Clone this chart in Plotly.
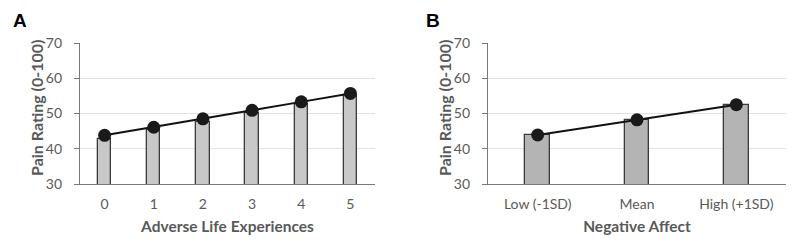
import plotly.graph_objects as go
from plotly.subplots import make_subplots

# Panel A data
ale_categories = ["0", "1", "2", "3", "4", "5"]
ale_bars = [42.7, 45.3, 47.7, 50.2, 52.7, 55.2]
ale_fit = [43.8, 46.1, 48.5, 50.9, 53.3, 55.7]

# Panel B data
na_categories = ["Low (-1SD)", "Mean", "High (+1SD)"]
na_bars = [43.9, 48.1, 52.4]
na_fit = [43.9, 48.2, 52.5]

y_ticks = [30, 40, 50, 60, 70]
y_title = "Pain Rating (0-100)"

FONT = "Lato"
GRAY = "#595959"

# page has an 8px body margin; figure sized to fit the 800x247 window
OFF = 8
W, H = 800 - OFF, 247 - OFF


def px_x(p):
    return (p - OFF) / W


def px_y(p):
    return 1 - (p - OFF) / H


fig = make_subplots(rows=1, cols=2)

fig.add_trace(go.Bar(x=ale_categories, y=ale_bars, width=0.27,
                     marker=dict(color="#c8c8c8", line=dict(color="#3a3a3a", width=1.3)),
                     showlegend=False), row=1, col=1)
fig.add_trace(go.Scatter(x=ale_categories, y=ale_fit, mode="lines+markers",
                         line=dict(color="#111111", width=2),
                         marker=dict(color="#1a1a1a", size=13),
                         showlegend=False), row=1, col=1)

fig.add_trace(go.Bar(x=na_categories, y=na_bars, width=0.25,
                     marker=dict(color="#b4b4b4", line=dict(color="#3a3a3a", width=1.3)),
                     showlegend=False), row=1, col=2)
fig.add_trace(go.Scatter(x=na_categories, y=na_fit, mode="lines+markers",
                         line=dict(color="#111111", width=2),
                         marker=dict(color="#1a1a1a", size=13),
                         showlegend=False), row=1, col=2)

ydom = [px_y(184), px_y(43)]
common_y = dict(range=[30, 70], tickvals=y_ticks, showgrid=True, gridcolor="#e2e2e2",
                gridwidth=1, showline=True, linecolor="#7a7a7a", linewidth=1.3,
                ticks="outside", ticklen=5, tickcolor="#7a7a7a", zeroline=False,
                ticklabelstandoff=9, automargin=False,
                tickfont=dict(family=FONT, size=14, color=GRAY),
                domain=ydom)
common_x = dict(showline=True, linecolor="#7a7a7a", linewidth=1.3, ticks="",
                ticklabelstandoff=7, automargin=False,
                tickfont=dict(family=FONT, size=14, color=GRAY), showgrid=False)

title_font = dict(family=FONT, size=16, color=GRAY)
letter_font = dict(family="Liberation Sans", size=19, color="black")

fig.update_layout(
    xaxis=dict(domain=[px_x(80), px_x(375)],
               title=dict(text="<b>Adverse Life Experiences</b>", standoff=10,
                          font=dict(family=FONT, size=15.5, color=GRAY)), **common_x),
    xaxis2=dict(domain=[px_x(488), px_x(786)],
                title=dict(text="<b>Negative Affect</b>", standoff=10,
                           font=dict(family=FONT, size=15.5, color=GRAY)), **common_x),
    yaxis=dict(**common_y),
    yaxis2=dict(**common_y),
    width=W, height=H,
    margin=dict(l=0, r=0, t=0, b=0, autoexpand=False),
    plot_bgcolor="white", paper_bgcolor="white",
    bargap=0,
    annotations=[
        dict(text="<b>A</b>", x=px_x(11), y=1, xref="paper", yref="paper",
             xanchor="left", yanchor="top", showarrow=False, font=letter_font),
        dict(text="<b>B</b>", x=px_x(424), y=1, xref="paper", yref="paper",
             xanchor="left", yanchor="top", showarrow=False, font=letter_font),
        dict(text="<b>" + y_title + "</b>", textangle=-90, x=px_x(36), y=px_y(108),
             xref="paper", yref="paper", xanchor="center", yanchor="middle",
             showarrow=False, font=title_font),
        dict(text="<b>" + y_title + "</b>", textangle=-90, x=px_x(444), y=px_y(108),
             xref="paper", yref="paper", xanchor="center", yanchor="middle",
             showarrow=False, font=title_font),
    ],
)

fig.write_html("out.html")
